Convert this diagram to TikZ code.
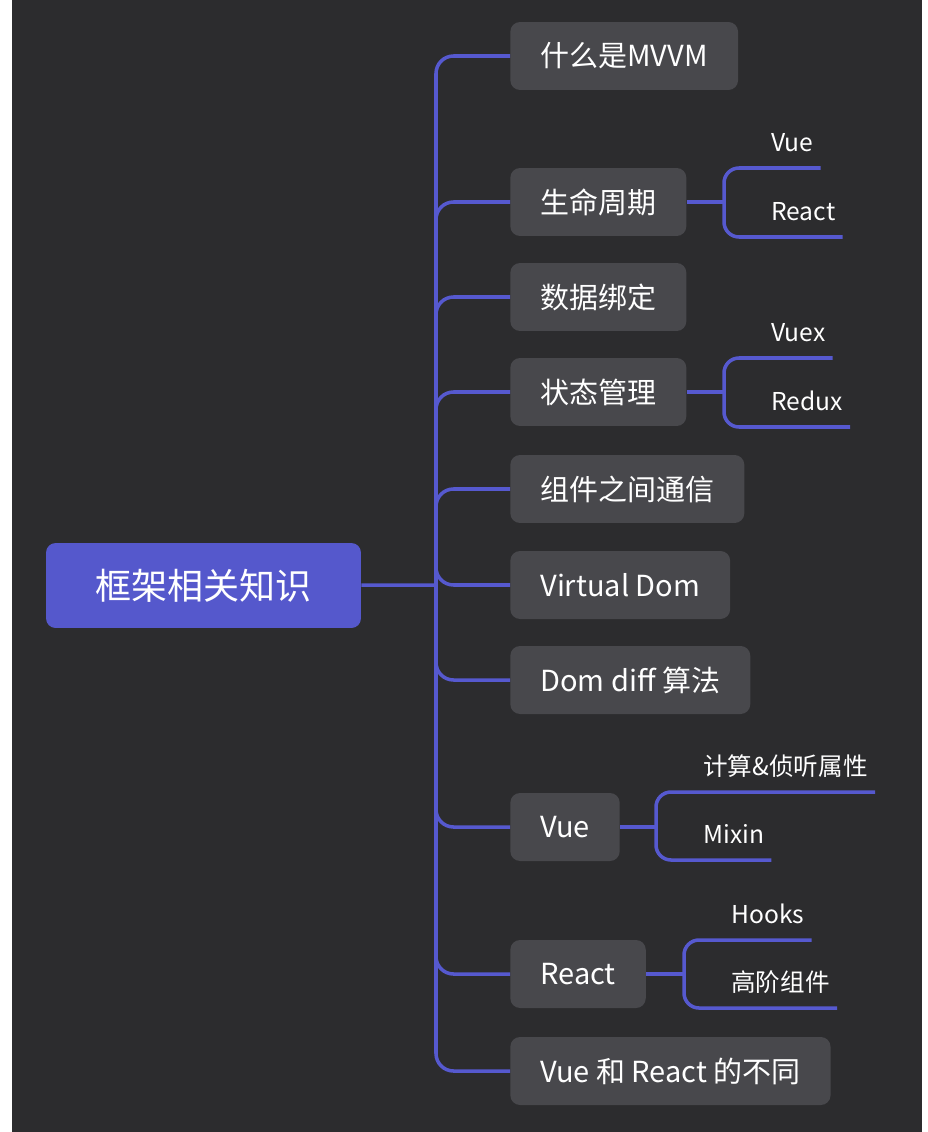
\documentclass[tikz,border=0pt]{standalone}
\usepackage{fontspec}
\setmainfont{Noto Sans CJK SC}
\usetikzlibrary{positioning}
\definecolor{bgdark}{HTML}{2C2C2E}
\definecolor{branchblue}{HTML}{5659CF}
\definecolor{boxgray}{HTML}{48484C}
\definecolor{rootblue}{HTML}{5558CC}

\begin{document}
\begin{tikzpicture}[x=0.02cm, y=-0.02cm,
  rootbox/.style={fill=rootblue, rounded corners=5.5pt, minimum width=6.3cm, minimum height=1.7cm, text=white, font=\fontsize{20.5}{24}\selectfont},
  topic/.style={fill=boxgray, rounded corners=5.5pt, anchor=west, minimum height=1.36cm, inner xsep=0.6cm, text=white, font=\fontsize{16.5}{20}\selectfont},
  leaf/.style={anchor=south west, inner xsep=0.14cm, inner ysep=0.2cm, text height=0.4cm, text depth=0.12cm, text=white, font=\fontsize{14}{17}\selectfont},
  link/.style={draw=branchblue, line width=2pt}]
          \fill[bgdark] (12,0) rectangle (922,1132);
          \useasboundingbox (0,0) rectangle (927,1132);
          % root and trunk
          \node[rootbox] (root) at (203.5,585.5) {框架相关知识};
          \coordinate (t) at (436,585);
          \node[topic] (mvvm) at (510,56) {什么是MVVM};
          \node[topic] (life) at (510,202) {生命周期};
          \node[topic] (bind) at (510,297) {数据绑定};
          \node[topic] (state) at (510,392) {状态管理};
          \node[topic] (comm) at (510,489) {组件之间通信};
          \node[topic] (vdom) at (510,585) {Virtual Dom};
          \node[topic] (diff) at (510,680) {Dom diff 算法};
          \node[topic] (vue) at (510,827) {Vue};
          \node[topic] (react) at (510,974) {React};
          \node[topic] (diffs) at (510,1071) {Vue 和 React 的不同};
          % leaves
          \coordinate (lifeb) at (724,202);
          \node[leaf] (lifevue) at (764,168) {Vue};
          \node[leaf] (lifereact) at (764,237) {React};
          \coordinate (stateb) at (724,392);
          \node[leaf] (vuex) at (764,358) {Vuex};
          \node[leaf] (redux) at (764,427) {Redux};
          \coordinate (vueb) at (656,827);
          \node[leaf] (computed) at (696,792) {计算\&侦听属性};
          \node[leaf] (mixin) at (696,860) {Mixin};
          \coordinate (reactb) at (684,974);
          \node[leaf] (hooks) at (724,940) {Hooks};
          \node[leaf] (hoc) at (724,1008) {高阶组件};
          % connectors
          \draw[link] (root) -- (t);
          \foreach \n in {mvvm,life,bind,state,comm,vdom,diff,vue,react,diffs}
          {
          \draw[link, rounded corners=0.35cm] (t) |- (\n.west);
          }
          \draw[link] (life) -- (lifeb);
          \draw[link] (state) -- (stateb);
          \draw[link] (vue) -- (vueb);
          \draw[link] (react) -- (reactb);
          \foreach \b/\n in {lifeb/lifevue,lifeb/lifereact,stateb/vuex,stateb/redux,vueb/computed,vueb/mixin,reactb/hooks,reactb/hoc}
          {
          \draw[link, rounded corners=0.3cm] (\b) |- (\n.south east);
          }
        \end{tikzpicture}
\end{document}
